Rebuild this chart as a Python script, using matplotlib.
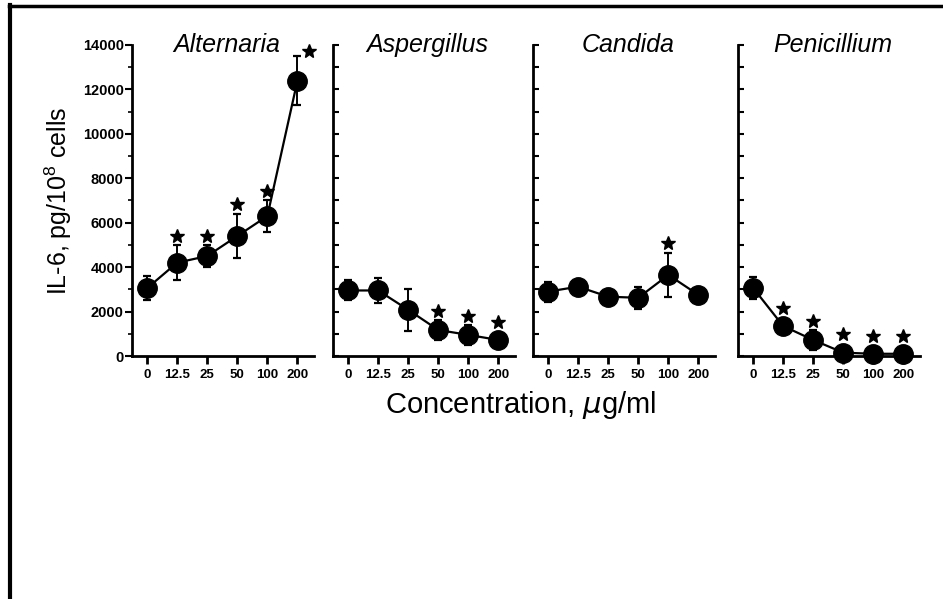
import matplotlib
matplotlib.use("Agg")
import matplotlib.pyplot as plt
from matplotlib.lines import Line2D
from matplotlib.ticker import MultipleLocator

plt.rcParams['font.family'] = ['Liberation Sans', 'DejaVu Sans']

# IL-6 release vs. spore extract concentration (mean, SD), * = significant
conc_labels = ["0", "12.5", "25", "50", "100", "200"]
fungi = ["Alternaria", "Aspergillus", "Candida", "Penicillium"]

alternaria = [3050, 4200, 4500, 5400, 6300, 12400]
alternaria_err = [550, 800, 500, 1000, 700, 1100]
alternaria_sig = [False, True, True, True, True, True]

aspergillus = [2950, 2950, 2080, 1170, 950, 720]
aspergillus_err = [450, 550, 950, 450, 450, 300]
aspergillus_sig = [False, False, False, True, True, True]

candida = [2900, 3120, 2670, 2620, 3650, 2750]
candida_err = [450, 200, 150, 500, 1000, 150]
candida_sig = [False, False, False, False, True, False]

penicillium = [3070, 1350, 720, 150, 100, 100]
penicillium_err = [500, 200, 450, 50, 50, 50]
penicillium_sig = [False, True, True, True, True, True]

series = [
    (alternaria, alternaria_err, alternaria_sig),
    (aspergillus, aspergillus_err, aspergillus_sig),
    (candida, candida_err, candida_sig),
    (penicillium, penicillium_err, penicillium_sig),
]

W, H = 943, 599
fig = plt.figure(figsize=(W / 100, H / 100), dpi=100)

# black frame on the left and top edges of the page
fig.add_artist(Line2D([10 / W, 10 / W], [0, 1 - 5 / H], color="black", lw=3, transform=fig.transFigure))
fig.add_artist(Line2D([9 / W, 1], [1 - 6 / H, 1 - 6 / H], color="black", lw=2.5, transform=fig.transFigure))

lefts = [132, 333, 533, 738]
ax_w, ax_bottom, ax_h = 182, 356, 311

x = list(range(len(conc_labels)))
for i, (name, (vals, errs, sig)) in enumerate(zip(fungi, series)):
    ax = fig.add_axes([lefts[i] / W, 1 - ax_bottom / H, ax_w / W, ax_h / H])
    ax.errorbar(x, vals, yerr=errs, fmt="o-", color="black", ms=14, lw=1.6,
                elinewidth=1.4, capsize=3, capthick=1.6, clip_on=False, zorder=3)

    # significance stars sit above the error bar (or beside it at the top)
    for xi, v, e, s in zip(x, vals, errs, sig):
        if not s:
            continue
        ys = v + max(e, 400) + 420
        xs = xi
        if ys > 13500:
            xs, ys = xi + 0.38, v + e + 250
        ax.plot(xs, ys, marker="*", color="black", ms=10.5, clip_on=False, zorder=4)

    ax.set_xlim(-0.5, 5.55)
    ax.set_ylim(0, 14000)
    ax.spines["top"].set_visible(False)
    ax.spines["right"].set_visible(False)
    for side in ("left", "bottom"):
        ax.spines[side].set_linewidth(2)

    ax.set_xticks(x)
    ax.set_xticklabels(conc_labels, fontsize=9.5, fontweight="bold")
    ax.tick_params(axis="x", direction="out", length=6, width=2, pad=3)

    ax.yaxis.set_major_locator(MultipleLocator(2000))
    ax.yaxis.set_minor_locator(MultipleLocator(1000))
    if i == 0:
        ax.tick_params(axis="y", which="major", direction="out", length=5, width=1.5,
                       labelsize=10.5, pad=1)
        ax.tick_params(axis="y", which="minor", direction="out", length=3, width=1.2)
        for lab in ax.get_yticklabels():
            lab.set_fontweight("bold")
        ax.set_ylabel("IL-6, pg/10$^{\\mathregular{8}}$ cells", fontsize=18, labelpad=6)
    else:
        ax.tick_params(axis="y", which="both", direction="in", length=4, width=1.5,
                       labelleft=False)

    ax.text(0.52, 1.0, name, transform=ax.transAxes, ha="center", va="center",
            fontsize=18, style="italic")

fig.text(521 / W, 1 - 405 / H, "Concentration, $\\mu$g/ml", ha="center", va="center",
         fontsize=21)

fig.savefig("out.png", dpi=100)
